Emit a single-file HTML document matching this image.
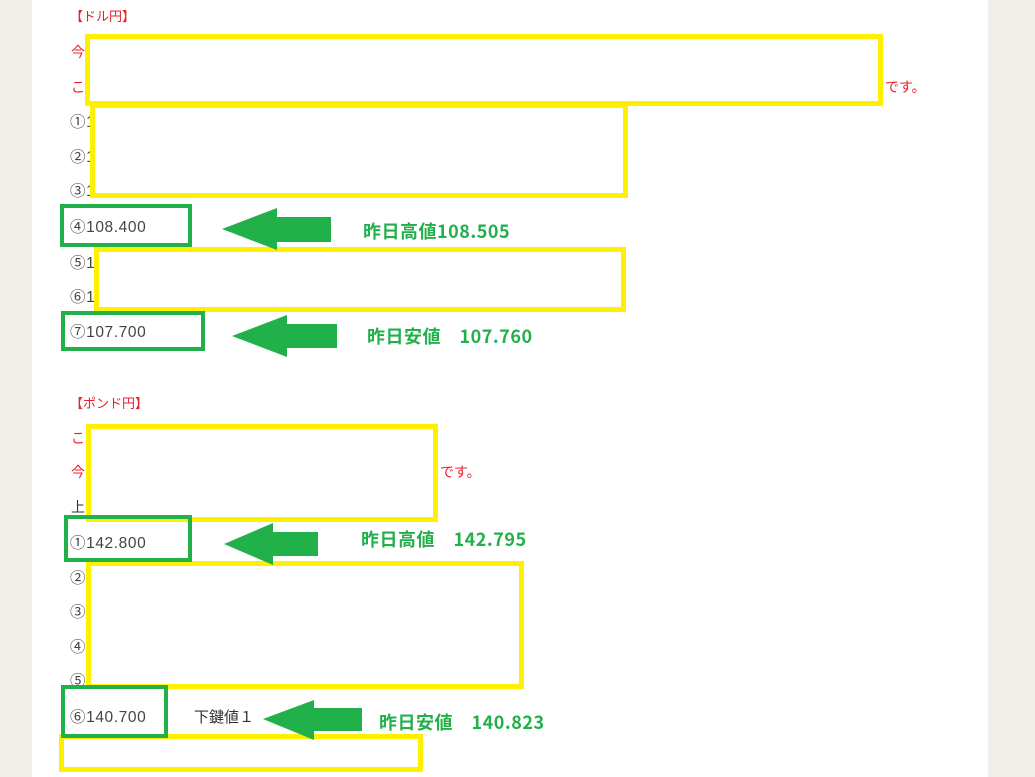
<!DOCTYPE html>
<html><head><meta charset="utf-8"><style>
body{margin:0;width:1035px;height:777px;background:#efeee9;position:relative;overflow:hidden;font-family:"Liberation Sans","Noto Sans CJK JP",sans-serif}
.page{position:absolute;left:32px;top:0;width:956px;height:777px;background:#fff}
.t{position:absolute;font-size:14px;line-height:20px;color:#333;white-space:nowrap}
.n{font-size:15.5px;letter-spacing:0.6px;color:#444}
.r{color:#e8202a}
.y{position:absolute;border:5px solid #fff000;box-sizing:border-box;background:#fff}
.g{position:absolute;border:4px solid #22b04b;box-sizing:border-box}
.lab{position:absolute;font-size:18px;line-height:22px;font-weight:bold;color:#22b04b;white-space:nowrap;font-family:"Liberation Sans Narrow","Noto Sans CJK JP",sans-serif;letter-spacing:0.5px}
svg{position:absolute;left:0;top:0}
</style></head><body>
<div class="page"></div>
<div class="t r" style="left:70px;top:7px;font-size:13px">【ドル円】</div>
<div class="t r" style="left:71px;top:42px">今</div>
<div class="t r" style="left:71px;top:77px">こ</div>
<div class="t r" style="left:885px;top:77px">です。</div>
<div class="t n" style="left:70px;top:113px">①1</div>
<div class="t n" style="left:70px;top:148px">②1</div>
<div class="t n" style="left:70px;top:182px">③1</div>
<div class="t n" style="left:70px;top:218px">④108.400</div>
<div class="t n" style="left:70px;top:254px">⑤1</div>
<div class="t n" style="left:70px;top:288px">⑥1</div>
<div class="t n" style="left:70px;top:323px">⑦107.700</div>
<div class="t r" style="left:70px;top:394px;font-size:13px">【ポンド円】</div>
<div class="t r" style="left:71px;top:428px">こ</div>
<div class="t r" style="left:71px;top:462px">今</div>
<div class="t r" style="left:440px;top:462px">です。</div>
<div class="t" style="left:71px;top:497px">上</div>
<div class="t n" style="left:70px;top:534px">①142.800</div>
<div class="t n" style="left:70px;top:569px">②</div>
<div class="t n" style="left:70px;top:603px">③</div>
<div class="t n" style="left:70px;top:638px">④</div>
<div class="t n" style="left:70px;top:672px">⑤</div>
<div class="t n" style="left:70px;top:708px">⑥140.700</div>
<div class="t" style="left:194px;top:708px;font-size:15px">下鍵値１</div>

<div class="y" style="left:85px;top:34px;width:798px;height:72px"></div>
<div class="y" style="left:90px;top:103px;width:538px;height:95px"></div>
<div class="y" style="left:94px;top:247px;width:532px;height:65px"></div>
<div class="y" style="left:86px;top:424px;width:352px;height:98px"></div>
<div class="y" style="left:86px;top:561px;width:438px;height:128px"></div>
<div class="y" style="left:59px;top:734px;width:364px;height:38px"></div>

<div class="g" style="left:60px;top:204px;width:132px;height:43px"></div>
<div class="g" style="left:61px;top:311px;width:144px;height:40px"></div>
<div class="g" style="left:64px;top:515px;width:128px;height:47px"></div>
<div class="g" style="left:61px;top:685px;width:107px;height:53px"></div>

<svg width="1035" height="777">
<g fill="#22b04b">
<polygon points="222,229 277,208 277,217 331,217 331,242 277,242 277,250"/>
<polygon points="232,336 287,315 287,324 337,324 337,348 287,348 287,357"/>
<polygon points="224,544 273,523 273,532 318,532 318,556 273,556 273,565"/>
<polygon points="263,719 314,700 314,708 362,708 362,731 314,731 314,740"/>
</g>
</svg>
<div class="lab" style="left:363px;top:220px">昨日高値108.505</div>
<div class="lab" style="left:367px;top:325px">昨日安値　107.760</div>
<div class="lab" style="left:361px;top:528px">昨日高値　142.795</div>
<div class="lab" style="left:379px;top:711px">昨日安値　140.823</div>
</body></html>
